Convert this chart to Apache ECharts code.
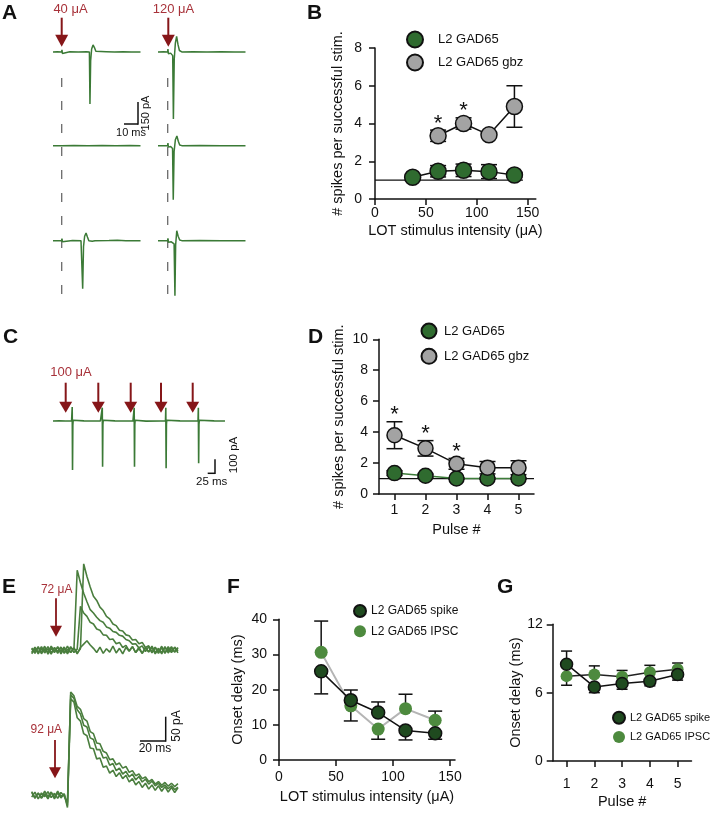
<!DOCTYPE html>
<html>
<head>
<meta charset="utf-8">
<script src="https://cdn.jsdelivr.net/npm/echarts@6.0.0/dist/echarts.min.js"></script>
<style>html,body{margin:0;padding:0;background:#fff;}#chart{width:712px;height:839px;}</style>
</head>
<body>
<div id="chart"></div>
<script>
// ================= DATA =================
// Panel A: cell-attached traces [time ms, current pA]
const traceA_40uA_1 = [[0,0],[3,2],[6.2,0],[6.4,15],[6.7,-10],[7,0],[12,2],[18,-1],[24,1],[26,0],[26.4,-354],[26.9,-60],[27.6,20],[28.6,48],[29.6,30],[30.6,5],[32,0],[38,2],[44,-1],[50,1],[56,-1],[62.5,0]];
const traceA_40uA_2 = [[0,0],[6.2,0],[6.4,12],[6.7,-8],[7,0],[15,1],[25,-1],[35,1],[45,-1],[55,1],[62.5,0]];
const traceA_40uA_3 = [[0,0],[6.2,0],[6.4,14],[6.7,-8],[7,0],[14,1],[20,0],[21.2,-327],[21.8,-40],[22.6,30],[23.6,52],[24.6,25],[25.6,0],[28,-4],[30,0],[40,1],[46,3],[52,0],[62.5,0]];
const traceA_120uA_1 = [[0,0],[4,1],[6.9,0],[7.1,20],[7.4,-12],[7.8,0],[9,-8],[10.5,-25],[11,-457],[11.6,-50],[12.4,60],[13.3,106],[14.3,50],[15.3,10],[17,0],[25,2],[35,-1],[45,1],[55,-1],[62.5,0]];
const traceA_120uA_2 = [[0,0],[6.9,0],[7.1,18],[7.4,-10],[7.8,0],[9,-6],[10.4,-20],[10.9,-368],[11.5,-40],[12.4,40],[13.5,66],[14.5,30],[15.5,5],[17,0],[30,1],[45,-1],[62.5,0]];
const traceA_120uA_3 = [[0,0],[6.9,0],[7.1,16],[7.4,-10],[7.8,0],[9.5,-8],[11.5,-22],[12.1,-376],[12.6,-30],[13.4,68],[14.4,30],[15.5,5],[17,0],[30,1],[45,-1],[62.5,0]];

// Panel C: 5-pulse train at 100 uA [time ms, current pA]
const traceC_100uA = [[0,0],[20,1],[40,0],[43,-10],[45,8],[47,0],[60,0],[61,-5],[62,100],[63,-350],[64,-30],[65,5],[67,0],[100,1],[146,0],[149,-10],[151,8],[153,0],[158,0],[159,95],[160,-326],[161,-25],[162,5],[164,0],[200,1],[251,0],[254,-10],[256,8],[258,0],[261,0],[262,95],[263,-326],[264,-25],[265,5],[267,0],[300,-1],[348,0],[351,-10],[353,8],[355,0],[363,0],[364,95],[365,-337],[366,-25],[367,5],[369,0],[410,1],[451,0],[454,-10],[456,8],[458,0],[468,0],[469,95],[470,-302],[471,-25],[472,5],[474,0],[520,1],[555,0]];

// Panel E: whole-cell IPSC traces, sampled times (ms) and currents (pA)
const timeE = [0,2.5,5,7.5,10,12.5,15,17.5,20,22.5,25,27.5,30,32.5,35,37.5,40,42.5,45,47.5,50,52.5,55,57.5,60,62.5,65,67.5,70,72.5,75,77.5,80,82.5,85,87.5,90,92.5,95,97.5,100,102.5,105,107.5,110,112.5];
const ipsc72_1 = [3,-8,6,-5,9,-10,4,-6,8,-4,7,-9,5,2,190,160,135,115,96,88,78,70,66,55,52,44,42,35,33,25,22,14,15,5,10,-4,8,-7,6,-5,9,-8,4,-6,7,-3];
const ipsc72_2 = [-6,7,-9,4,-3,8,-7,5,-8,6,-5,9,-6,4,-7,3,205,175,150,128,118,102,94,80,74,62,58,47,45,36,34,24,25,15,18,6,10,-5,7,-8,5,-6,8,-4,6,-7];
const ipsc72_3 = [5,-4,8,-9,3,-6,9,-3,6,-9,4,-5,8,-6,2,104,88,80,66,62,50,47,36,35,25,26,15,18,6,11,-2,8,-6,7,-8,5,-4,9,-6,4,-9,6,-3,8,-5,4];
const ipsc72_4 = [-9,4,-5,8,-7,3,-10,6,-4,7,-8,2,-6,5,-9,6,14,22,12,4,-6,7,-8,3,-5,9,-7,4,-9,6,-3,8,-6,3,-8,6,-5,7,-9,2,-6,8,-7,4,-5,6];
const ipsc92_1 = [6,-8,4,-6,9,-4,7,-9,5,-7,3,-25,245,236,211,204,182,176,151,146,124,122,104,100,84,86,72,76,64,68,54,58,46,50,39,43,32,37,26,32,23,30,21,28,20,27];
const ipsc92_2 = [-5,7,-9,5,-4,8,-6,4,-8,6,-3,-18,238,230,203,193,166,162,136,132,108,108,88,90,71,75,58,64,50,56,43,50,36,44,31,38,26,33,22,28,18,24,15,22,13,19];
const ipsc92_3 = [8,-6,5,-8,3,-9,6,-5,9,-4,2,-30,229,221,184,176,146,141,112,110,86,88,66,69,52,59,44,53,39,47,31,39,24,32,18,28,14,24,11,22,9,20,7,18,6,17];

// Panel B: spikes per successful stim vs LOT intensity
const intensityCtrl = [37, 62, 87, 112, 137];
const spikesCtrl = [1.15, 1.47, 1.52, 1.45, 1.27];
const spikesCtrlSem = [0.1, 0.3, 0.33, 0.37, 0.1];
const intensityGbz = [62, 87, 112, 137];
const spikesGbz = [3.35, 4.0, 3.4, 4.9];
const spikesGbzSem = [0.3, 0.3, 0, 1.1];
const starsB = [62, 87];
const intensityTicks = [0, 50, 100, 150];
const refLevel = 1;

// Panel D: spikes per successful stim vs pulse #
const pulses = [1, 2, 3, 4, 5];
const spikesCtrlD = [1.35, 1.18, 1.0, 1.0, 1.0];
const spikesCtrlDSem = [0.15, 0.1, 0.05, 0.05, 0.05];
const spikesGbzD = [3.8, 2.95, 1.95, 1.7, 1.7];
const spikesGbzDSem = [0.87, 0.5, 0.35, 0.4, 0.45];
const starsD = [1, 2, 3];

// Panel F: onset delay vs intensity (signed SEM: + drawn above, - drawn below)
const intensityF = [37, 63, 87, 111, 137];
const onsetSpikeF = [25.2, 17.0, 13.5, 8.4, 7.6];
const onsetSpikeFSem = [-6.4, 2.9, 3.0, -2.7, -1.7];
const onsetIpscF = [30.6, 15.4, 8.8, 14.6, 11.3];
const onsetIpscFSem = [8.9, -4.3, -2.9, 4.1, 2.6];

// Panel G: onset delay vs pulse #
const onsetSpikeG = [8.5, 6.5, 6.8, 7.0, 7.6];
const onsetSpikeGSem = [1.15, -0.5, -0.5, -0.4, -0.5];
const onsetIpscG = [7.45, 7.6, 7.4, 7.8, 8.05];
const onsetIpscGSem = [-0.8, 0.75, 0.55, 0.6, 0.55];

// ================= STYLE / BUILD =================
const FONT = 'Arial, "Liberation Sans", Helvetica, sans-serif';
const INK = '#111111';
const TRACE = '#3b7a36', TRACE_E = '#4a7e3e';
const RED_ARROW = '#861619', RED_TEXT = '#a8323a';
const GREEN_DARK = '#2f6b2f', GRAY = '#a3a3a3';
const SPIKE_FILL = '#1f4a1f', IPSC_FILL = '#4d8a3e';

const grids = [], xAxes = [], yAxes = [], series = [];
function addGrid(g, xa, ya) {
  grids.push(g);
  const i = grids.length - 1;
  xAxes.push(Object.assign({ gridIndex: i }, xa));
  yAxes.push(Object.assign({ gridIndex: i }, ya));
  return i;
}
function hidden(min, max) { return { type: 'value', min: min, max: max, show: false }; }
function traceSeries(gi, data, color, width) {
  series.push({ type: 'line', xAxisIndex: gi, yAxisIndex: gi, data: data, showSymbol: false, symbol: 'none',
    lineStyle: { color: color, width: width }, silent: true, z: 2 });
}
function pairs(xs, ys) { return xs.map((x, i) => [x, ys[i]]); }
function symErr(xs, ys, es) { return xs.map((x, i) => [x, ys[i], ys[i] - es[i], ys[i] + es[i]]); }
function oneErr(xs, ys, es) { return xs.map((x, i) => es[i] >= 0 ? [x, ys[i], ys[i], ys[i] + es[i]] : [x, ys[i], ys[i] + es[i], ys[i]]); }
function errSeries(gi, data, capHalf) {
  series.push({ type: 'custom', xAxisIndex: gi, yAxisIndex: gi, data: data, silent: true, z: 3,
    renderItem: function (params, api) {
      const x = api.value(0), m = api.value(1), lo = api.value(2), hi = api.value(3);
      const pl = api.coord([x, lo]), ph = api.coord([x, hi]);
      const st = { stroke: INK, lineWidth: 1.5 };
      const ch = [];
      if (hi > lo) ch.push({ type: 'line', shape: { x1: pl[0], y1: pl[1], x2: ph[0], y2: ph[1] }, style: st });
      if (lo < m) ch.push({ type: 'line', shape: { x1: pl[0] - capHalf, y1: pl[1], x2: pl[0] + capHalf, y2: pl[1] }, style: st });
      if (hi > m) ch.push({ type: 'line', shape: { x1: ph[0] - capHalf, y1: ph[1], x2: ph[0] + capHalf, y2: ph[1] }, style: st });
      return { type: 'group', children: ch };
    } });
}
function dataSeries(gi, name, data, size, fill, border, lineColor, lineWidth, extra) {
  series.push(Object.assign({ type: 'line', name: name, xAxisIndex: gi, yAxisIndex: gi, data: data,
    symbol: 'circle', symbolSize: size, showSymbol: true, z: 5,
    itemStyle: { color: fill, borderColor: border || fill, borderWidth: border ? 1.5 : 0 },
    lineStyle: { color: lineColor, width: lineWidth }, emphasis: { disabled: true } }, extra || {}));
}
function axisX(min, max, ticks, name, nameGap, margin) {
  return { type: 'value', min: min, max: max, name: name, nameLocation: 'middle', nameGap: nameGap,
    nameTextStyle: { fontFamily: FONT, fontSize: 14.5, color: INK },
    axisLine: { show: true, onZero: false, lineStyle: { color: INK, width: 1.5 } },
    axisTick: { show: true, length: 6, customValues: ticks, lineStyle: { color: INK, width: 1.5 } },
    axisLabel: { show: true, customValues: ticks, margin: margin, fontFamily: FONT, fontSize: 14, color: INK },
    splitLine: { show: false } };
}
function axisY(min, max, interval, name, nameGap, margin) {
  return { type: 'value', min: min, max: max, interval: interval, name: name, nameLocation: 'middle', nameGap: nameGap, nameRotate: 90,
    nameTextStyle: { fontFamily: FONT, fontSize: 14.5, color: INK },
    axisLine: { show: true, onZero: false, lineStyle: { color: INK, width: 1.5 } },
    axisTick: { show: true, length: 6, lineStyle: { color: INK, width: 1.5 } },
    axisLabel: { show: true, margin: margin, fontFamily: FONT, fontSize: 14, color: INK },
    splitLine: { show: false } };
}
function stars(xs, allX, ys, es) {
  return { symbol: 'circle', symbolSize: 1, itemStyle: { color: 'rgba(0,0,0,0)' }, silent: true,
    label: { show: true, formatter: '*', position: 'top', distance: 0, offset: [0, 5], fontSize: 22, color: INK, fontFamily: FONT },
    data: xs.map(x => { const i = allX.indexOf(x); return { coord: [x, ys[i] + es[i]] }; }) };
}

// ---- Panel A traces (6 grids) ----
const aTraces = [[traceA_40uA_1, 53, 32.9], [traceA_120uA_1, 158, 32.9], [traceA_40uA_2, 53, 126.6],
                 [traceA_120uA_2, 158, 126.6], [traceA_40uA_3, 53, 221.6], [traceA_120uA_3, 158, 221.6]];
aTraces.forEach(t => {
  const gi = addGrid({ left: t[1], top: t[2], width: 87.5, height: 92.4 }, hidden(0, 62.5), hidden(-500, 130));
  traceSeries(gi, t[0], TRACE, 1.5);
});
// ---- Panel C trace ----
const gC = addGrid({ left: 53, top: 400, width: 172, height: 77 }, hidden(0, 555), hidden(-400, 150));
traceSeries(gC, traceC_100uA, TRACE, 1.6);
// ---- Panel E traces ----
const gE1 = addGrid({ left: 31.7, top: 557.6, width: 146.25, height: 109.2 }, hidden(0, 112.5), hidden(-40, 220));
[ipsc72_4, ipsc72_3, ipsc72_1, ipsc72_2].forEach(tr => traceSeries(gE1, pairs(timeE, tr), TRACE_E, 1.6));
const gE2 = addGrid({ left: 31.7, top: 685.8, width: 146.25, height: 126 }, hidden(0, 112.5), hidden(-40, 260));
[ipsc92_3, ipsc92_2, ipsc92_1].forEach(tr => traceSeries(gE2, pairs(timeE, tr), TRACE_E, 1.6));

// ---- Panel B ----
const bXMax = 158;
const gB = addGrid({ left: 375, top: 48, width: 160.8, height: 151 },
  axisX(0, bXMax, intensityTicks, 'LOT stimulus intensity (μA)', 24, 7),
  axisY(0, 8, 2, '# spikes per successful stim.', 30, 13));
series.push({ type: 'line', xAxisIndex: gB, yAxisIndex: gB, data: [[0, refLevel], [bXMax * 0.92, refLevel]], symbol: 'none',
  lineStyle: { color: INK, width: 1.3 }, silent: true, z: 1 });
errSeries(gB, symErr(intensityCtrl, spikesCtrl, spikesCtrlSem), 8);
errSeries(gB, symErr(intensityGbz, spikesGbz, spikesGbzSem), 8);
dataSeries(gB, 'L2 GAD65', pairs(intensityCtrl, spikesCtrl), 16, GREEN_DARK, INK, INK, 1.5);
dataSeries(gB, 'L2 GAD65 gbz', pairs(intensityGbz, spikesGbz), 16, GRAY, INK, INK, 1.5,
  { markPoint: stars(starsB, intensityGbz, spikesGbz, spikesGbzSem) });

// ---- Panel D ----
const gD = addGrid({ left: 379, top: 339.3, width: 155, height: 154.7 },
  axisX(0.5, 5.5, pulses, 'Pulse #', 28, 9),
  axisY(0, 10, 2, '# spikes per successful stim.', 33, 11));
series.push({ type: 'line', xAxisIndex: gD, yAxisIndex: gD, data: [[0.5, refLevel], [5.5, refLevel]], symbol: 'none',
  lineStyle: { color: INK, width: 1.3 }, silent: true, z: 1 });
errSeries(gD, symErr(pulses, spikesCtrlD, spikesCtrlDSem), 8);
errSeries(gD, symErr(pulses, spikesGbzD, spikesGbzDSem), 8);
dataSeries(gD, 'L2 GAD65', pairs(pulses, spikesCtrlD), 15, GREEN_DARK, INK, '#3d7d3a', 1.5);
dataSeries(gD, 'L2 GAD65 gbz', pairs(pulses, spikesGbzD), 15, GRAY, INK, INK, 1.5,
  { markPoint: stars(starsD, pulses, spikesGbzD, spikesGbzDSem) });

// ---- Panel F ----
const gF = addGrid({ left: 279, top: 619.3, width: 176, height: 140.7 },
  axisX(0, 154.4, intensityTicks, 'LOT stimulus intensity (μA)', 29, 10),
  axisY(0, 40, 10, 'Onset delay (ms)', 34, 12));
errSeries(gF, oneErr(intensityF, onsetSpikeF, onsetSpikeFSem), 7);
errSeries(gF, oneErr(intensityF, onsetIpscF, onsetIpscFSem), 7);
dataSeries(gF, 'L2 GAD65 IPSC', pairs(intensityF, onsetIpscF), 13, IPSC_FILL, null, '#b5b5b5', 2);
dataSeries(gF, 'L2 GAD65 spike', pairs(intensityF, onsetSpikeF), 13, SPIKE_FILL, INK, INK, 1.5);

// ---- Panel G ----
const gG = addGrid({ left: 552.7, top: 624.3, width: 138.8, height: 136.7 },
  axisX(0.5, 5.5, pulses, 'Pulse #', 33, 16),
  axisY(0, 12, 6, 'Onset delay (ms)', 28, 10));
errSeries(gG, oneErr(pulses, onsetSpikeG, onsetSpikeGSem), 5.5);
errSeries(gG, oneErr(pulses, onsetIpscG, onsetIpscGSem), 5.5);
dataSeries(gG, 'L2 GAD65 IPSC', pairs(pulses, onsetIpscG), 12, IPSC_FILL, null, '#222', 1.5);
dataSeries(gG, 'L2 GAD65 spike', pairs(pulses, onsetSpikeG), 12, SPIKE_FILL, INK, INK, 1.5);

// ---- Legends ----
function legend(left, top, size, gap, fontSize, textPad, names) {
  return { show: true, left: left, top: top, orient: 'vertical', padding: 0, itemWidth: size, itemHeight: size, itemGap: gap,
    icon: 'circle', selectedMode: false, data: names,
    textStyle: { fontFamily: FONT, fontSize: fontSize, color: INK, padding: [0, 0, 0, textPad] } };
}
const legends = [
  legend(406, 30.5, 16, 5, 13, 10, ['L2 GAD65', 'L2 GAD65 gbz']),
  legend(420.5, 322.5, 15, 8.3, 13, 2.5, ['L2 GAD65', 'L2 GAD65 gbz']),
  legend(353, 604, 12, 7.3, 12, 0, ['L2 GAD65 spike', 'L2 GAD65 IPSC']),
  legend(612, 710.7, 12, 6.3, 11, 0, ['L2 GAD65 spike', 'L2 GAD65 IPSC'])
];

// ---- Annotations (graphic) ----
function txt(x, y, s, size, color, extra) {
  return Object.assign({ type: 'text', x: x, y: y, silent: true,
    style: { text: s, fontSize: size, fontFamily: FONT, fill: color, align: 'center', textAlign: 'center', verticalAlign: 'middle', textVerticalAlign: 'middle' } }, extra || {});
}
function letter(x, y, s) {
  const t = txt(x, y, s, 21, INK);
  t.style.fontWeight = 'bold'; t.style.align = 'left'; t.style.textAlign = 'left';
  return t;
}
function seg(x1, y1, x2, y2, color, w, dash) {
  const s = { stroke: color, lineWidth: w };
  if (dash) s.lineDash = dash;
  return { type: 'line', silent: true, shape: { x1: x1, y1: y1, x2: x2, y2: y2 }, style: s };
}
function arrow(x, y1, y2, hw, hh, lw) {
  return [seg(x, y1, x, y2 - hh + 1, RED_ARROW, lw),
    { type: 'polygon', silent: true, shape: { points: [[x - hw / 2, y2 - hh], [x + hw / 2, y2 - hh], [x, y2]] }, style: { fill: RED_ARROW } }];
}
const rot = { rotation: Math.PI / 2 };
let els = [
  letter(2, 13.5, 'A'), letter(307, 13.5, 'B'), letter(3, 337.5, 'C'), letter(308, 337.5, 'D'),
  letter(2, 587.5, 'E'), letter(227, 587.5, 'F'), letter(497, 587.5, 'G'),
  // Panel A
  txt(70.5, 9.5, '40 μA', 13, RED_TEXT), txt(173.5, 9.5, '120 μA', 13, RED_TEXT),
  seg(61.7, 78, 61.7, 298, '#6a6a6a', 1.3, [9, 14]), seg(167.7, 78, 167.7, 298, '#6a6a6a', 1.3, [9, 14]),
  seg(124, 124, 138, 124, INK, 1.5), seg(138, 102, 138, 124.7, INK, 1.5),
  txt(131, 132.5, '10 ms', 11, INK), txt(145.5, 113, '150 pA', 11, INK, rot),
  // Panel C
  txt(71, 372.5, '100 μA', 13, RED_TEXT),
  seg(207.7, 473.3, 215, 473.3, INK, 1.5), seg(215, 459.3, 215, 474, INK, 1.5),
  txt(211.7, 482, '25 ms', 11.5, INK), txt(234, 455, '100 pA', 11.5, INK, rot),
  // Panel E
  txt(56.7, 589.3, '72 μA', 12, RED_TEXT), txt(46.3, 729.3, '92 μA', 12, RED_TEXT),
  seg(140, 741, 165.7, 741, INK, 1.5), seg(165.7, 716.7, 165.7, 741.7, INK, 1.5),
  txt(155, 748.5, '20 ms', 12, INK), txt(177, 726, '50 pA', 12, INK, rot)
];
els = els.concat(arrow(61.7, 17.7, 46.7, 13, 12, 2), arrow(168.3, 17.7, 46.7, 13, 12, 2));
[65.7, 98.3, 130.7, 161, 192.7].forEach(x => { els = els.concat(arrow(x, 382.7, 412.7, 13, 11, 2)); });
els = els.concat(arrow(56, 598.3, 636.7, 12, 11, 1.8), arrow(55, 740, 778.3, 12, 11, 1.8));

const chart = echarts.init(document.getElementById('chart'), null, { renderer: 'canvas', width: 712, height: 839 });
chart.setOption({
  animation: false,
  backgroundColor: '#ffffff',
  textStyle: { fontFamily: FONT },
  grid: grids, xAxis: xAxes, yAxis: yAxes, series: series, legend: legends,
  graphic: { elements: els }
});
</script>
</body>
</html>
